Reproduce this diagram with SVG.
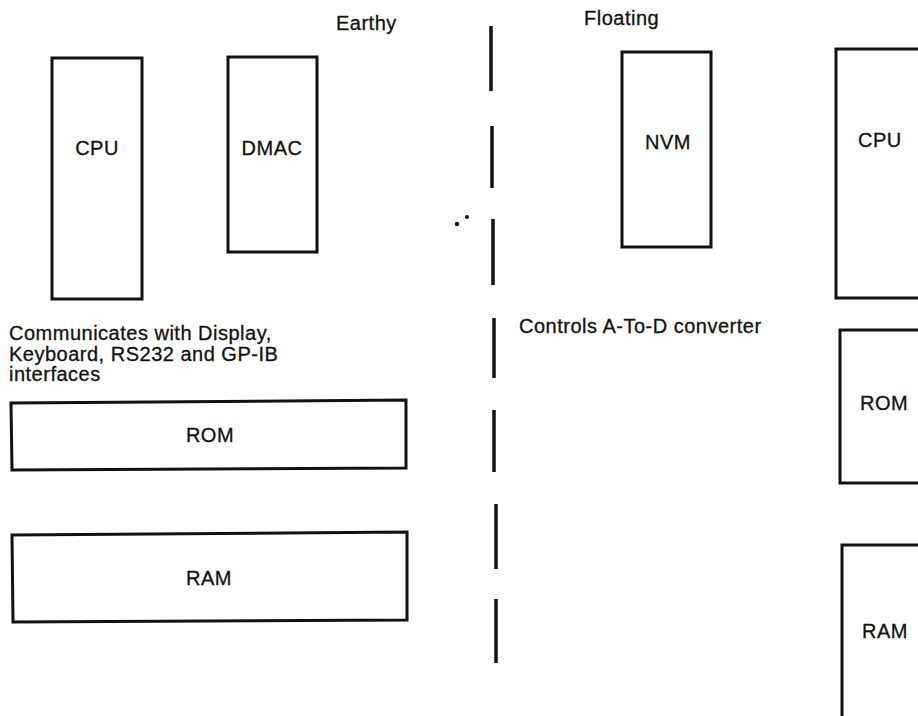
<svg xmlns="http://www.w3.org/2000/svg" width="918" height="716" viewBox="0 0 918 716">
<style>
.box{fill:none;stroke:#111;stroke-width:3}
.t{font-family:"Liberation Sans",Arial,sans-serif;font-size:20px;fill:#111;stroke:#111;stroke-width:0.3;letter-spacing:0.5px}
.c{text-anchor:middle}
.dash{stroke:#111;stroke-width:3.5;fill:none}
</style>
<rect width="918" height="716" fill="#fff"/>
<text class="t" x="336" y="30">Earthy</text>
<text class="t" x="584" y="25">Floating</text>
<g id="cpu-left"><rect class="box" x="52" y="58" width="90" height="241"/><text class="t c" x="97" y="155">CPU</text></g>
<g id="dmac"><rect class="box" x="228" y="57" width="89" height="195"/><text class="t c" x="272" y="155">DMAC</text></g>
<g id="nvm"><rect class="box" x="622" y="52" width="89" height="195"/><text class="t c" x="668" y="149">NVM</text></g>
<g id="cpu-right"><rect class="box" x="836" y="49" width="100" height="249"/><text class="t" x="858" y="147">CPU</text></g>
<g id="rom-right"><rect class="box" x="840" y="330" width="100" height="153"/><text class="t" x="860" y="410">ROM</text></g>
<g id="ram-right"><rect class="box" x="842" y="545" width="100" height="190"/><text class="t" x="862" y="638">RAM</text></g>
<g id="rom-left"><polygon class="box" points="11,403 406,400 406,468 12,470"/><text class="t c" x="210" y="442">ROM</text></g>
<g id="ram-left"><polygon class="box" points="12,535 407,532 407,620 13,622"/><text class="t c" x="209" y="585">RAM</text></g>
<text class="t" x="9" y="340">Communicates with Display,</text>
<text class="t" x="9" y="361">Keyboard, RS232 and GP-IB</text>
<text class="t" x="9" y="381">interfaces</text>
<text class="t" x="519" y="333">Controls A-To-D converter</text>
<g id="connectors">
<line class="dash" x1="491" y1="26" x2="491" y2="91"/>
<line class="dash" x1="492" y1="126" x2="492" y2="188"/>
<line class="dash" x1="493" y1="219" x2="493" y2="285"/>
<line class="dash" x1="494" y1="318" x2="494" y2="378"/>
<line class="dash" x1="494" y1="410" x2="494" y2="472"/>
<line class="dash" x1="496" y1="504" x2="496" y2="569"/>
<line class="dash" x1="496" y1="599" x2="496" y2="663"/>
</g>
<circle cx="457" cy="224" r="2.2" fill="#111"/>
<circle cx="467" cy="217" r="2" fill="#111"/>
</svg>
